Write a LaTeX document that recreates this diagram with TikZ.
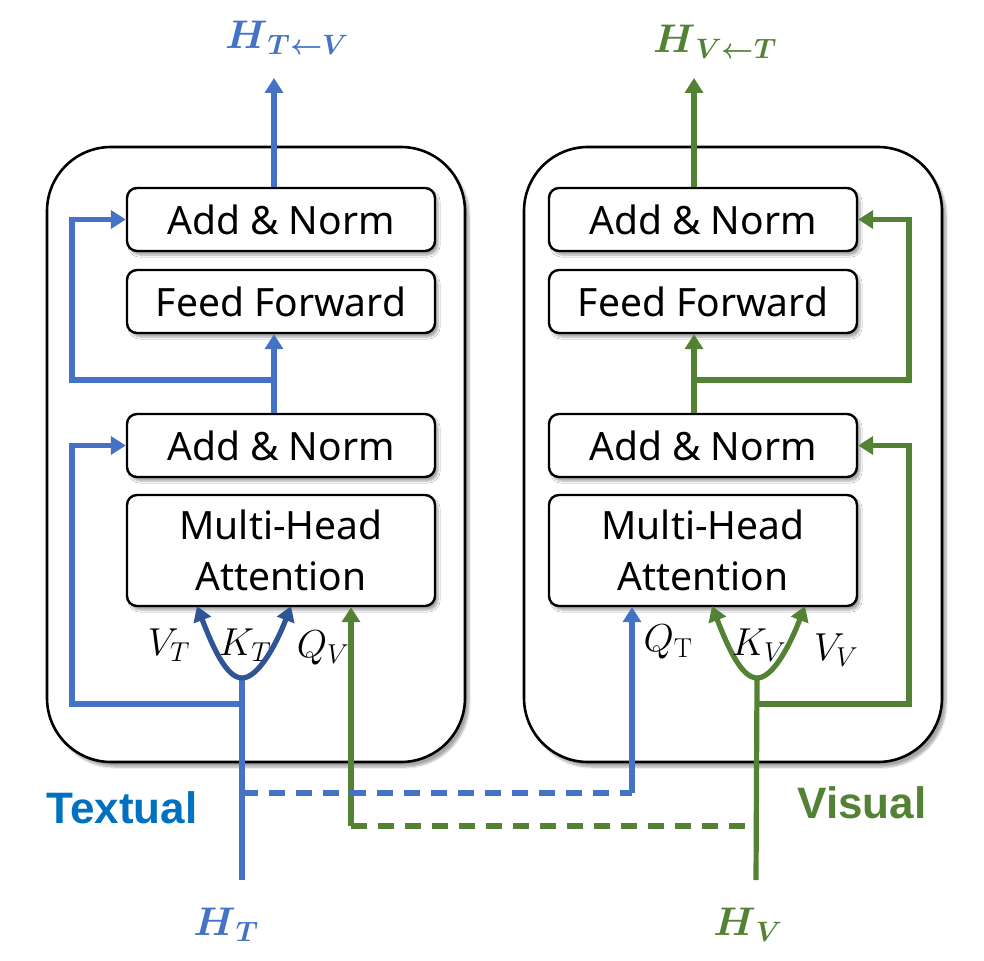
\RequirePackage{fix-cm}
\documentclass[tikz,border=0pt]{standalone}
\usepackage{amsmath}
\usepackage[no-math]{fontspec}
\setmainfont{Noto Sans}
\newfontfamily\arialfont{Liberation Sans}
\usetikzlibrary{arrows.meta,shadows.blur}
\definecolor{cblue}{HTML}{4472C4}
\definecolor{cgreen}{HTML}{548235}
\definecolor{cdark}{HTML}{2F5597}
\definecolor{ctext}{HTML}{0070C0}
\begin{document}
\begin{tikzpicture}[x=1pt,y=-1pt,
  outerbox/.style={draw=black, line width=2.6pt, rounded corners=64pt, fill=white,
     minimum width=418pt, minimum height=615pt, inner sep=0pt,
     blur shadow={shadow xshift=4pt, shadow yshift=-5pt, shadow blur steps=8, shadow opacity=35}},
  blockbox/.style={draw=black, line width=2.4pt, rounded corners=10pt, fill=white,
     minimum width=308pt, inner sep=0pt, align=center,
     font=\fontsize{39}{51}\selectfont,
     blur shadow={shadow xshift=3pt, shadow yshift=-4pt, shadow blur steps=6, shadow opacity=35}},
  tip/.style={-{Triangle[length=15pt,width=18pt]}},
  bline/.style={draw=cblue, line width=5.2pt},
  gline/.style={draw=cgreen, line width=5.2pt},
  dline/.style={draw=cdark, line width=5.2pt},
  mlabel/.style={inner sep=0pt, font=\fontsize{39}{44}\selectfont},
  hlabel/.style={inner sep=0pt, font=\fontsize{40}{48}\selectfont},
  side/.style={inner sep=0pt, font=\arialfont\bfseries\fontsize{44}{50}\selectfont},
  dashln/.style={dash pattern=on 16pt off 11pt}
]
\useasboundingbox (0,0) rectangle (984,960);

% outer boxes
\node[outerbox] (LO) at (256,454.5) {};
\node[outerbox] (RO) at (733,454.5) {};

% left column blocks
\node[blockbox, minimum height=63pt] (LAN1) at (281,219.5) {Add \& Norm};
\node[blockbox, minimum height=63pt] (LFF) at (281,301.5) {Feed Forward};
\node[blockbox, minimum height=63pt] (LAN2) at (281,445.5) {Add \& Norm};
\node[blockbox, minimum height=111pt] (LMHA) at (281,550.5) {Multi-Head\\Attention};

% right column blocks
\node[blockbox, minimum height=63pt] (RAN1) at (703,219.5) {Add \& Norm};
\node[blockbox, minimum height=63pt] (RFF) at (703,301.5) {Feed Forward};
\node[blockbox, minimum height=63pt] (RAN2) at (703,445.5) {Add \& Norm};
\node[blockbox, minimum height=111pt] (RMHA) at (703,550.5) {Multi-Head\\Attention};

% coordinates
\coordinate (LTop) at (274,78);
\coordinate (RTop) at (694,78);
\coordinate (LBr1) at (274,380);
\coordinate (LX) at (72,380);
\coordinate (LBr2) at (242,704);
\coordinate (LX2) at (72,704);
\coordinate (RBr1) at (694,380);
\coordinate (RX) at (909,380);
\coordinate (RBr2) at (756,704);
\coordinate (RX2) at (909,704);
\coordinate (HTin) at (242,880);
\coordinate (HVin) at (756,880);
\coordinate (LK) at (242,678);
\coordinate (RK) at (757,678);
\coordinate (QVb) at (351,826);
\coordinate (QTb) at (632,793);
\coordinate (HTd) at (242,793);
\coordinate (HVd) at (756,826);
\coordinate (LVt) at (197,606);
\coordinate (LKt) at (291,606);
\coordinate (RKt) at (712,606);
\coordinate (RVt) at (805,606);

% left connectors
\draw[bline, tip] (LAN1.north -| LTop) -- (LTop);
\draw[bline, tip] (LAN2.north -| LTop) -- (LFF.south -| LTop);
\draw[bline, tip] (LBr1) -- (LX) -- (LX |- LAN1.west) -- (LAN1.west);
\draw[bline, tip] (LBr2) -- (LX2) -- (LX2 |- LAN2.west) -- (LAN2.west);
\draw[bline] (HTin) -- (LK);
\draw[dline, tip] (LK) .. controls (226,678) and (212,645) .. (LVt);
\draw[dline, tip] (LK) .. controls (258,678) and (276,645) .. (LKt);

% right connectors
\draw[gline, tip] (RAN1.north -| RTop) -- (RTop);
\draw[gline, tip] (RAN2.north -| RTop) -- (RFF.south -| RTop);
\draw[gline, tip] (RBr1) -- (RX) -- (RX |- RAN1.east) -- (RAN1.east);
\draw[gline, tip] (RBr2) -- (RX2) -- (RX2 |- RAN2.east) -- (RAN2.east);
\draw[gline] (HVin) -- (RK);
\draw[gline, tip] (RK) .. controls (741,678) and (727,645) .. (RKt);
\draw[gline, tip] (RK) .. controls (773,678) and (790,645) .. (RVt);

% cross connections
\draw[gline, tip] (QVb) -- (QVb |- LMHA.south);
\draw[gline, dashln] (QVb) -- (HVd);
\draw[bline, dashln] (HTd) -- (QTb);
\draw[bline, tip] (QTb) -- (QTb |- RMHA.south);

% math labels
\node[mlabel] (lvt) at (169,645) {$V_T$};
\node[mlabel] (lkt) at (245,645) {$K_T$};
\node[mlabel] (lqv) at (323,648) {$Q_V$};
\node[mlabel] (rqt) at (668,642) {$Q_{\mathrm{T}}$};
\node[mlabel] (rkv) at (759,645) {$K_V$};
\node[mlabel] (rvv) at (836,650) {$V_V$};

% H labels
\node[hlabel, text=cblue] (hout) at (287,38) {$\boldsymbol{H}_{\boldsymbol{T\leftarrow V}}$};
\node[hlabel, text=cgreen] (vout) at (715,42) {$\boldsymbol{H}_{\boldsymbol{V\leftarrow T}}$};
\node[hlabel, text=cblue] (hin) at (226,925) {$\boldsymbol{H}_{\boldsymbol{T}}$};
\node[hlabel, text=cgreen] (vin) at (748,925) {$\boldsymbol{H}_{\boldsymbol{V}}$};

% side labels
\node[side, text=ctext] (textual) at (122,808) {Textual};
\node[side, text=cgreen] (visual) at (862,803) {Visual};
\end{tikzpicture}
\end{document}
